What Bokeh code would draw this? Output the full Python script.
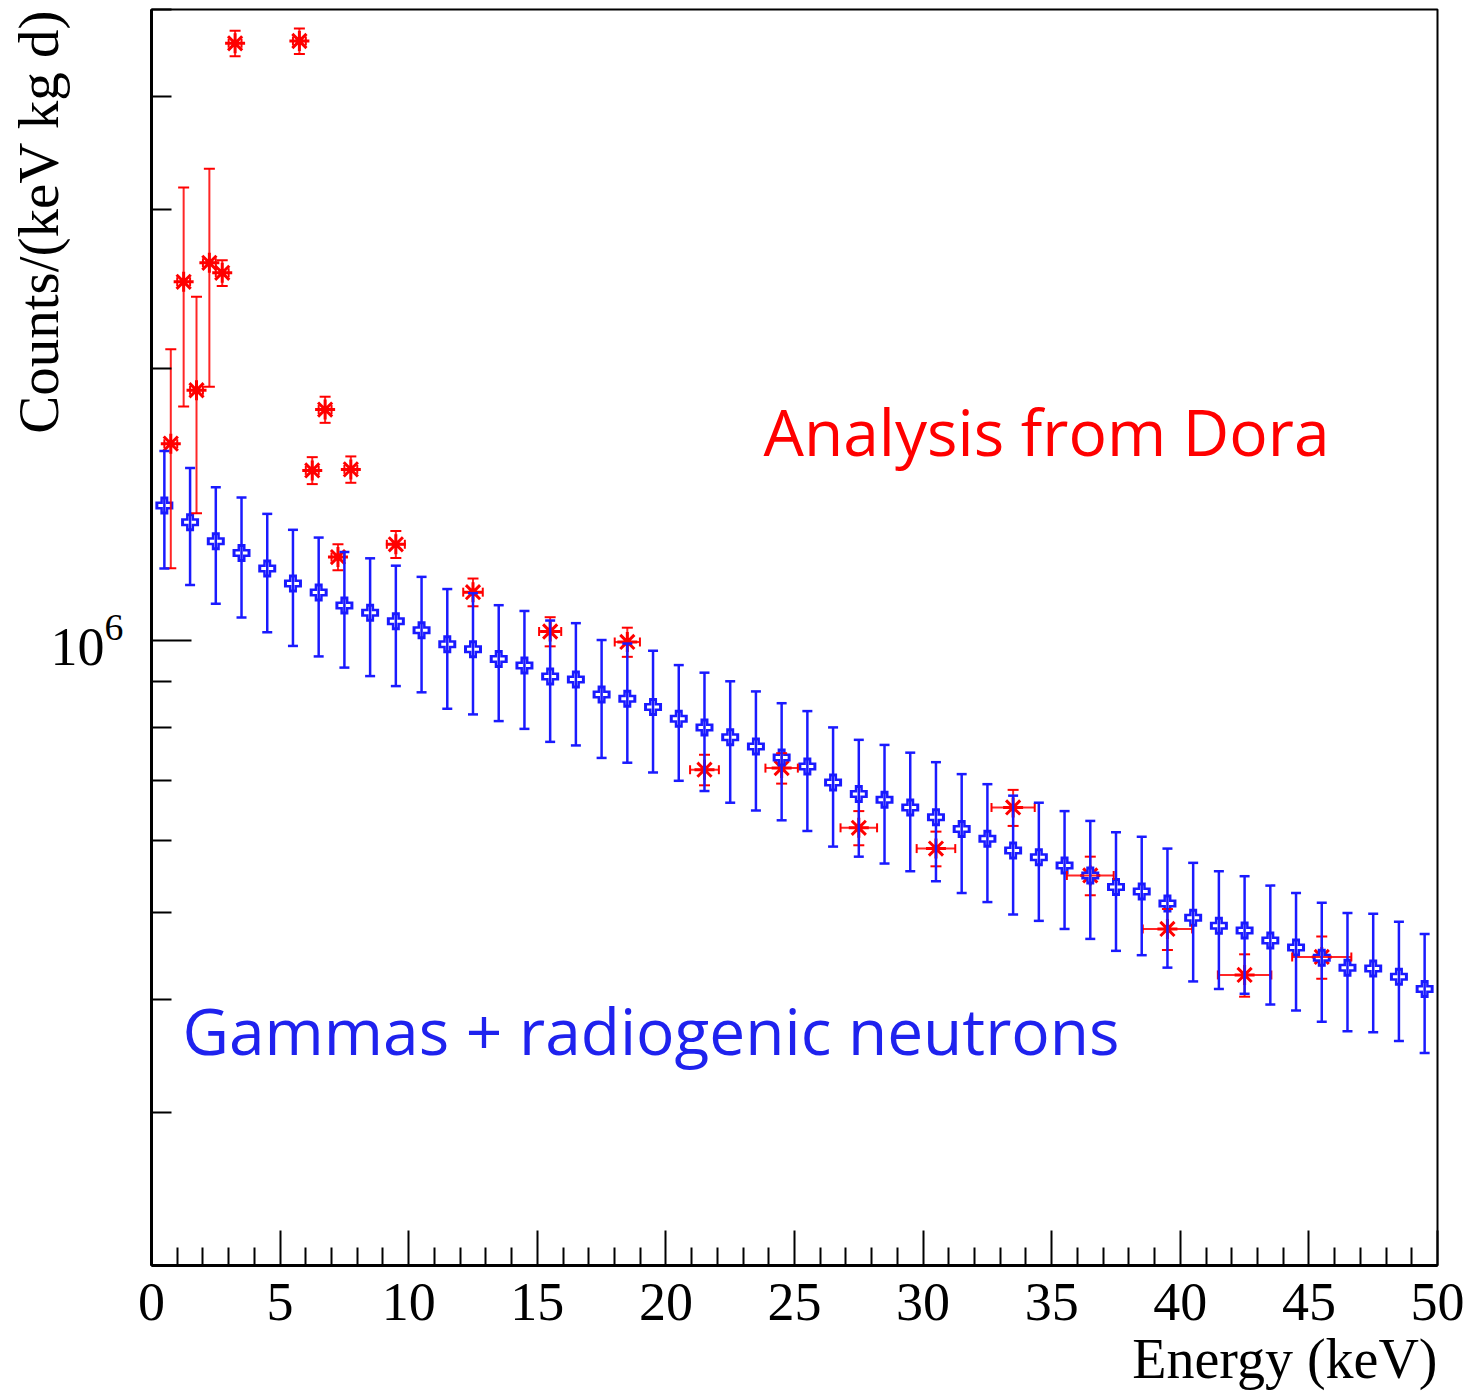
from bokeh.plotting import figure
from bokeh.models import (ColumnDataSource, Whisker, TeeHead, Range1d, FixedTicker, Label, Title)
from bokeh.embed import file_html
from bokeh.resources import INLINE

# ---------------- data ----------------
# Gammas + radiogenic neutrons (blue)
blue_energy = [0.5, 1.5, 2.5, 3.5, 4.5, 5.5, 6.5, 7.5, 8.5, 9.5,
               10.5, 11.5, 12.5, 13.5, 14.5, 15.5, 16.5, 17.5, 18.5, 19.5,
               20.5, 21.5, 22.5, 23.5, 24.5, 25.5, 26.5, 27.5, 28.5, 29.5,
               30.5, 31.5, 32.5, 33.5, 34.5, 35.5, 36.5, 37.5, 38.5, 39.5,
               40.5, 41.5, 42.5, 43.5, 44.5, 45.5, 46.5, 47.5, 48.5, 49.5]
blue_counts = [1.411e6, 1.352e6, 1.288e6, 1.250e6, 1.201e6, 1.156e6, 1.130e6, 1.093e6, 1.073e6, 1.050e6,
               1.026e6, 0.990e6, 0.978e6, 0.954e6, 0.938e6, 0.912e6, 0.905e6, 0.871e6, 0.862e6, 0.844e6,
               0.819e6, 0.801e6, 0.781e6, 0.763e6, 0.742e6, 0.725e6, 0.696e6, 0.676e6, 0.666e6, 0.653e6,
               0.637e6, 0.618e6, 0.603e6, 0.585e6, 0.575e6, 0.563e6, 0.549e6, 0.533e6, 0.527e6, 0.511e6,
               0.493e6, 0.483e6, 0.477e6, 0.465e6, 0.457e6, 0.445e6, 0.434e6, 0.433e6, 0.424e6, 0.411e6]
blue_err = [0.21e6, 0.20e6, 0.19e6, 0.19e6, 0.18e6, 0.17e6, 0.17e6, 0.16e6, 0.16e6, 0.16e6,
            0.15e6, 0.15e6, 0.15e6, 0.14e6, 0.14e6, 0.14e6, 0.14e6, 0.13e6, 0.13e6, 0.13e6,
            0.12e6, 0.12e6, 0.12e6, 0.115e6, 0.11e6, 0.11e6, 0.105e6, 0.10e6, 0.10e6, 0.098e6,
            0.096e6, 0.093e6, 0.090e6, 0.088e6, 0.086e6, 0.084e6, 0.082e6, 0.080e6, 0.079e6, 0.077e6,
            0.074e6, 0.072e6, 0.071e6, 0.070e6, 0.068e6, 0.067e6, 0.065e6, 0.065e6, 0.064e6, 0.062e6]

# Analysis from Dora (red)
red_energy = [0.75, 1.25, 1.75, 2.25, 2.75, 3.25, 5.75, 6.25, 6.75, 7.25, 7.75,
              9.5, 12.5, 15.5, 18.5, 21.5, 24.5, 27.5, 30.5, 33.5, 36.5, 39.5, 42.5, 45.5]
red_counts = [1.652e6, 2.496e6, 1.893e6, 2.620e6, 2.554e6, 4.587e6, 4.614e6, 1.543e6, 1.802e6,
              1.237e6, 1.547e6, 1.278e6, 1.131e6, 1.023e6, 0.996e6, 0.719e6, 0.722e6, 0.620e6,
              0.588e6, 0.653e6, 0.549e6, 0.479e6, 0.426e6, 0.446e6]
red_err_y = [0.45e6, 0.68e6, 0.51e6, 0.71e6, 0.084e6, 0.15e6, 0.15e6, 0.053e6, 0.060e6,
             0.041e6, 0.052e6, 0.044e6, 0.040e6, 0.038e6, 0.037e6, 0.028e6, 0.028e6, 0.027e6,
             0.026e6, 0.030e6, 0.027e6, 0.025e6, 0.023e6, 0.024e6]
red_err_x = [0.25, 0.25, 0.25, 0.25, 0.25, 0.25, 0.25, 0.25, 0.25, 0.25, 0.25,
             0.35, 0.38, 0.43, 0.49, 0.56, 0.63, 0.71, 0.75, 0.84, 0.91, 0.96, 1.04, 1.15]

x_major_ticks = [0, 5, 10, 15, 20, 25, 30, 35, 40, 45, 50]
x_minor_ticks = [1, 2, 3, 4, 6, 7, 8, 9, 11, 12, 13, 14, 16, 17, 18, 19, 21, 22, 23, 24,
                 26, 27, 28, 29, 31, 32, 33, 34, 36, 37, 38, 39, 41, 42, 43, 44, 46, 47, 48, 49]
y_major_ticks = [1e6]
y_minor_ticks = [3e5, 4e5, 5e5, 6e5, 7e5, 8e5, 9e5, 2e6, 3e6, 4e6, 5e6]

x_title = "Energy (keV)"
y_title = "Counts/(keV kg d)"

BLUE = "#1a1aff"
RED = "#ff0000"

# ---------------- sources ----------------
blue_src = ColumnDataSource(dict(
    x=blue_energy, y=blue_counts,
    lo=[v - e for v, e in zip(blue_counts, blue_err)],
    hi=[v + e for v, e in zip(blue_counts, blue_err)],
))
red_src = ColumnDataSource(dict(
    x=red_energy, y=red_counts,
    lo=[v - e for v, e in zip(red_counts, red_err_y)],
    hi=[v + e for v, e in zip(red_counts, red_err_y)],
    xlo=[v - e for v, e in zip(red_energy, red_err_x)],
    xhi=[v + e for v, e in zip(red_energy, red_err_x)],
))

# ---------------- figure ----------------
p = figure(width=1467, height=1394,
           x_range=Range1d(0, 50), y_range=Range1d(2.03e5, 5.0e6),
           y_axis_type="log", output_backend="svg", toolbar_location=None,
           title=None,
           min_border_left=151, min_border_right=30,
           min_border_top=9, min_border_bottom=129)

p.background_fill_color = "white"
p.border_fill_color = "white"
p.outline_line_color = "black"
p.outline_line_width = 2
p.xgrid.grid_line_color = None
p.ygrid.grid_line_color = None

# axes
p.xaxis.ticker = FixedTicker(ticks=x_major_ticks, minor_ticks=x_minor_ticks)
p.yaxis.ticker = FixedTicker(ticks=y_major_ticks, minor_ticks=y_minor_ticks)
for ax in (p.xaxis[0], p.yaxis[0]):
    ax.axis_line_color = "black"
    ax.axis_line_width = 3
    ax.major_tick_line_color = "black"
    ax.minor_tick_line_color = "black"
    ax.major_tick_line_width = 2
    ax.minor_tick_line_width = 2
    ax.major_tick_out = 0
    ax.minor_tick_out = 0
    ax.major_label_text_font = "Liberation Serif"
    ax.major_label_text_font_size = "54px"
    ax.major_label_text_color = "black"

p.xaxis.major_tick_in = 35
p.xaxis.minor_tick_in = 18
p.xaxis.major_label_standoff = 18

p.yaxis.major_tick_in = 40
p.yaxis.minor_tick_in = 20
p.yaxis.major_label_standoff = 28

# axis titles, aligned to the far ends of the axes (ROOT style)
p.add_layout(Title(text=x_title, align="right", standoff=7,
                   text_font="Liberation Serif", text_font_style="normal",
                   text_font_size="56px", text_color="black"), "below")
p.add_layout(Title(text=y_title, align="right", standoff=-45,
                   text_font="Liberation Serif", text_font_style="normal",
                   text_font_size="57px", text_color="black"), "left")

# ---------------- red series (drawn first, below blue) ----------------
p.add_layout(Whisker(source=red_src, base="x", lower="lo", upper="hi", dimension="height",
                     line_color=RED, line_width=2, line_alpha=0.85, level="glyph",
                     upper_head=TeeHead(size=11, line_color=RED, line_width=2),
                     lower_head=TeeHead(size=11, line_color=RED, line_width=2)))
p.add_layout(Whisker(source=red_src, base="y", lower="xlo", upper="xhi", dimension="width",
                     line_color=RED, line_width=2, line_alpha=0.85, level="glyph",
                     upper_head=TeeHead(size=9, line_color=RED, line_width=2),
                     lower_head=TeeHead(size=9, line_color=RED, line_width=2)))
p.scatter("x", "y", source=red_src, marker="asterisk", size=20,
          line_color=RED, line_width=3)

# ---------------- blue series ----------------
p.add_layout(Whisker(source=blue_src, base="x", lower="lo", upper="hi", dimension="height",
                     line_color=BLUE, line_width=2.5, level="glyph",
                     upper_head=TeeHead(size=10, line_color=BLUE, line_width=2.5),
                     lower_head=TeeHead(size=10, line_color=BLUE, line_width=2.5)))
p.scatter("x", "y", source=blue_src, marker="cross", size=18,
          line_color=BLUE, line_width=8)
p.scatter("x", "y", source=blue_src, marker="cross", size=12,
          line_color="white", line_width=3)

# ---------------- texts ----------------
p.add_layout(Label(x=612, y=834, x_units="screen", y_units="screen",
                   text="Analysis from Dora", text_color=RED,
                   text_font="Open Sans", text_font_size="64px",
                   text_baseline="alphabetic", text_align="left"))
p.add_layout(Label(x=31, y=235, x_units="screen", y_units="screen",
                   text="Gammas + radiogenic neutrons", text_color="#1f22ee",
                   text_font="Open Sans", text_font_size="64px",
                   text_baseline="alphabetic", text_align="left"))

open("out.html", "w").write(file_html(p, INLINE))
